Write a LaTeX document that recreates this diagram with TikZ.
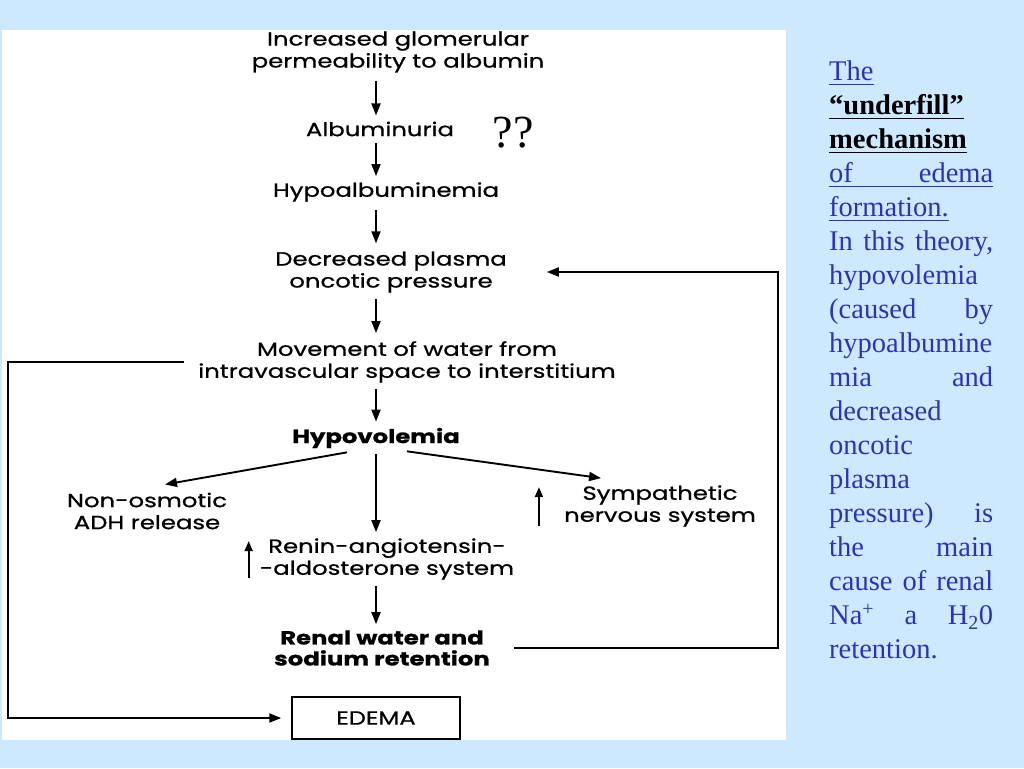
\documentclass[tikz,border=0pt]{standalone}
\usepackage{fontspec}
\setmainfont{Liberation Serif}
\newfontfamily\flowfont[FakeStretch=1.28, FakeBold=0.8]{Poppins}
\usetikzlibrary{arrows.meta}
\definecolor{slidebg}{RGB}{204,233,255}
\definecolor{noteblue}{RGB}{44,52,178}
% underline drawn as a rule below the box
\newcommand{\noteul}[1]{\leavevmode\vtop{\hbox{#1}\kern2.5pt\hrule height 1.5pt}}

\begin{document}
\begin{tikzpicture}[x=1pt, y=-1pt,
    flow/.style={font=\flowfont\fontsize{19}{22}\selectfont, align=center, inner sep=0pt},
    boldflow/.style={flow, font=\flowfont\bfseries\fontsize{19}{21}\selectfont},
    flowarrow/.style={-{Triangle[length=12pt,width=9pt]}, line width=1.9pt},
    uparrow/.style={-{Triangle[length=10pt,width=8pt]}, line width=1.8pt}]
% Slide and white panel
\useasboundingbox (0,0) rectangle (1024,768);
\fill[slidebg] (0,0) rectangle (1024,768);
\fill[white] (2,30) rectangle (786,740);

% Rails for the feedback loops
\coordinate (leftrail) at (8,0);
\coordinate (rightrail) at (778,0);

% Main chain
\node[flow] (perm) at (398,52) {Increased glomerular\\permeability to albumin};
\node[flow] (albu) at (380,129) {Albuminuria};
\node[flow] (hypoalb) at (386,192) {Hypoalbuminemia};
\node[flow] (decr) at (391,272) {Decreased plasma\\oncotic pressure};
\node[flow] (move) at (407,362) {Movement of water from\\intravascular space to interstitium};
\node[boldflow] (hypo) at (376,438) {Hypovolemia};
\node[flow] (adh) at (147,511) {Non-osmotic\\ADH release};
\node[flow] (symp) at (660,506) {Sympathetic\\nervous system};
\node[flow] (renin) at (387,559) {Renin-angiotensin-\\-aldosterone system};
\node[boldflow] (renal) at (382,648) {Renal water and\\sodium retention};
\node[draw, line width=1.5pt, minimum width=168pt, minimum height=42pt,
      font=\flowfont\fontsize{19}{20}\selectfont] (edema) at (376,718) {EDEMA};

% Question marks
\node[font=\fontsize{46}{46}\selectfont] (qq) at (513,133) {??};

% Arrows down the chain
\draw[flowarrow, shorten <=8pt, shorten >=6pt] (perm.south -| hypo) -- (albu.north -| hypo);
\draw[flowarrow, shorten <=6pt, shorten >=6pt] (albu.south -| hypo) -- (hypoalb.north -| hypo);
\draw[flowarrow, shorten <=8pt, shorten >=8pt] (hypoalb.south -| hypo) -- (decr.north -| hypo);
\draw[flowarrow, shorten <=6pt, shorten >=8pt] (decr.south -| hypo) -- (move.north -| hypo);
\draw[flowarrow, shorten <=6pt, shorten >=6pt] (move.south -| hypo) -- (hypo.north);
\draw[flowarrow, shorten <=6pt, shorten >=6pt] (hypo.south) -- (renin.north -| hypo);
\draw[flowarrow, shorten <=6pt, shorten >=6pt] (renin.south -| hypo) -- (renal.north -| hypo);

% Side branches
\draw[flowarrow] ([xshift=-29pt,yshift=-4pt]hypo.south) -- ([xshift=18pt,yshift=8pt]adh.north);
\draw[flowarrow] ([xshift=31pt,yshift=-3pt]hypo.south) -- ([xshift=-59pt,yshift=7pt]symp.north);
\draw[uparrow] ([xshift=-25pt,yshift=1pt]symp.south west) -- ([xshift=-25pt,yshift=-2pt]symp.north west);
\draw[uparrow] ([xshift=-11pt,yshift=2pt]renin.south west) -- ([xshift=-11pt,yshift=-3pt]renin.north west);

% Feedback loops
\draw[flowarrow] ([xshift=24pt]renal.east) -- (renal.east -| rightrail)
    -- (decr.east -| rightrail) -- ([xshift=40pt]decr.east);
\draw[flowarrow, shorten >=10pt] ([xshift=-14pt]move.west) -- (move.west -| leftrail)
    |- (edema.west);

% Notes on the right
\node[anchor=north west, inner sep=0pt, text width=164pt, align=justify,
      font=\fontsize{28.5}{34}\selectfont, text=noteblue] (note) at (829,61)
  {\hyphenpenalty=10000 \hbadness=10000
   \noteul{The}\linebreak
   {\color{black}\bfseries\noteul{“underfill”}}\linebreak
   {\color{black}\bfseries\noteul{mechanism}}\linebreak
   \noteul{\makebox[164pt][s]{of edema}}\linebreak
   \noteul{formation.}\\
   In this theory,\linebreak
   hypovolemia\linebreak
   (caused by\linebreak
   hypoalbumine\linebreak
   mia and\linebreak
   decreased\linebreak
   oncotic\linebreak
   plasma\linebreak
   pressure) is\linebreak
   the main\linebreak
   cause of renal\linebreak
   Na\textsuperscript{+} a H\textsubscript{2}0\linebreak
   retention.};
\end{tikzpicture}
\end{document}
